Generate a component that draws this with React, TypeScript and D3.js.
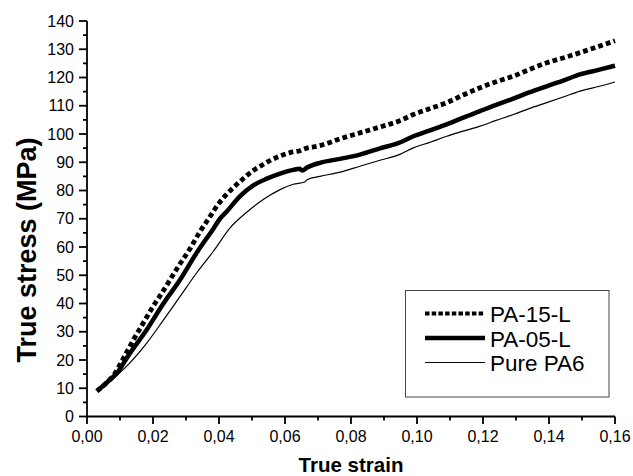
import React from "react";
import * as d3 from "d3";

const pa15Strain = [0.003,0.006,0.008,0.011,0.014,0.017,0.020,0.023,0.026,0.028,0.031,0.034,0.037,0.040,0.043,0.0465,0.050,0.0525,0.055,0.0585,0.0615,0.0645,0.066,0.0706,0.0767,0.0827,0.0888,0.0948,0.0989,0.104,0.109,0.114,0.1191,0.124,0.1292,0.134,0.1393,0.1445,0.1494,0.155,0.160];
const pa15Stress = [9,12,14.5,20.5,27,33,38.9,44.3,50,53.7,59,65,70.3,75.5,79.5,83.3,86.8,88.6,90.3,92.2,93.4,94.1,94.8,95.9,98.3,100.4,102.5,104.7,106.9,109,111.1,113.8,116.4,118.5,120.5,122.8,125.2,127,128.8,131,133];

const pa05Strain = [0.003,0.006,0.009,0.013,0.0181,0.0232,0.0282,0.0332,0.0383,0.0403,0.0423,0.0464,0.0504,0.0545,0.0585,0.0625,0.0644,0.0652,0.0668,0.0706,0.0767,0.0827,0.0888,0.0948,0.0989,0.104,0.109,0.114,0.1191,0.124,0.1292,0.134,0.1393,0.1445,0.1494,0.155,0.160];
const pa05Stress = [9,12,15.3,22.4,30.7,40.1,48.4,57.9,66.5,70,72.5,78,81.8,84.2,86,87.3,87.7,87.1,88.2,89.8,91.2,92.7,94.9,97,99.2,101.3,103.4,105.8,108.1,110.3,112.5,114.7,116.9,119,121.1,122.7,124.2];

const pa6Strain = [0.003,0.006,0.009,0.013,0.0181,0.0232,0.0282,0.0332,0.0383,0.0433,0.0484,0.0534,0.0585,0.0625,0.0660,0.0668,0.0706,0.0767,0.0827,0.0888,0.0948,0.0989,0.104,0.109,0.114,0.1191,0.124,0.1292,0.134,0.1393,0.1445,0.1494,0.155,0.160];
const pa6Stress = [9,11.5,14.5,19,26,34.2,42.5,50.8,58.5,66.7,72.3,76.8,80.3,82.2,83,83.9,85,86.5,88.6,90.7,92.8,95.1,97.1,99.2,101,102.8,104.8,106.9,109,111.1,113.2,115.2,116.8,118.4];

const xMajor = [0,0.02,0.04,0.06,0.08,0.10,0.12,0.14,0.16];
const xMinor = [0.01,0.03,0.05,0.07,0.09,0.11,0.13,0.15];
const yMajor = [0,10,20,30,40,50,60,70,80,90,100,110,120,130,140];
const yMinor = [5,15,25,35,45,55,65,75,85,95,105,115,125,135];
const legendLabels = ["PA-15-L","PA-05-L","Pure PA6"];

const FONT = "'Liberation Sans', Arial, sans-serif";

export default function App() {
  const x = d3.scaleLinear().domain([0, 0.16]).range([87, 615]);
  const y = d3.scaleLinear().domain([0, 140]).range([416.5, 21]);
  const mk = (xs: number[], ys: number[]) =>
    d3.line<number>().x((_, i) => x(xs[i])).y((v) => y(v)).curve(d3.curveMonotoneX)(ys) || "";

  const fmtX = (v: number) => v.toFixed(2).replace(".", ",");

  const legendY = [313.5, 338, 362.5];
  const styles = [
    { w: 4.8, dash: "4.8,3.2" },
    { w: 4.5, dash: undefined },
    { w: 1.2, dash: undefined },
  ];
  const legendStyles = [
    { w: 4, dash: "4.5,2.2" },
    { w: 4.5, dash: undefined },
    { w: 1.2, dash: undefined },
  ];

  return (
    <svg width={633} height={476} style={{ position: "absolute", left: 0, top: 0, background: "#fff" }} fontFamily={FONT}>
      <rect x={0} y={0} width={633} height={476} fill="#fff" />
      {/* curves */}
      <path d={mk(pa6Strain, pa6Stress)} fill="none" stroke="#000" strokeWidth={styles[2].w} />
      <path d={mk(pa05Strain, pa05Stress)} fill="none" stroke="#000" strokeWidth={styles[1].w} />
      <path d={mk(pa15Strain, pa15Stress)} fill="none" stroke="#000" strokeWidth={styles[0].w} strokeDasharray={styles[0].dash} />

      {/* axes */}
      <line x1={x(0)} x2={x(0.16)} y1={y(0)} y2={y(0)} stroke="#000" strokeWidth={1.8} />
      <line x1={x(0)} x2={x(0)} y1={y(0)} y2={y(140)} stroke="#000" strokeWidth={1.8} />
      {xMajor.map((v) => (
        <g key={"xm" + v}>
          <line x1={x(v)} x2={x(v)} y1={y(0)} y2={y(0) + 7.5} stroke="#000" strokeWidth={1.8} />
          <text x={x(v)} y={442} fontSize={16} textAnchor="middle">{fmtX(v)}</text>
        </g>
      ))}
      {xMinor.map((v) => (
        <line key={"xn" + v} x1={x(v)} x2={x(v)} y1={y(0)} y2={y(0) + 4} stroke="#000" strokeWidth={1.8} />
      ))}
      {yMajor.map((v) => (
        <g key={"ym" + v}>
          <line x1={x(0) - 8} x2={x(0)} y1={y(v)} y2={y(v)} stroke="#000" strokeWidth={1.8} />
          <text x={74} y={y(v) + 5.7} fontSize={16} textAnchor="end">{v}</text>
        </g>
      ))}
      {yMinor.map((v) => (
        <line key={"yn" + v} x1={x(0) - 4} x2={x(0)} y1={y(v)} y2={y(v)} stroke="#000" strokeWidth={1.8} />
      ))}

      {/* titles */}
      <text x={351} y={472} fontSize={20.5} fontWeight="bold" textAnchor="middle">True strain</text>
      <text transform="translate(36,250) rotate(-90)" fontSize={27} fontWeight="bold" textAnchor="middle">True stress (MPa)</text>

      {/* legend */}
      <rect x={405.5} y={290.5} width={203.5} height={106.5} fill="#fff" stroke="#444" strokeWidth={1} />
      {legendLabels.map((lab, i) => (
        <g key={lab}>
          <line x1={425} x2={485} y1={legendY[i]} y2={legendY[i]} stroke="#000" strokeWidth={legendStyles[i].w} strokeDasharray={legendStyles[i].dash} />
          <text x={490} y={legendY[i] + 8.5} fontSize={22.5}>{lab}</text>
        </g>
      ))}
    </svg>
  );
}
